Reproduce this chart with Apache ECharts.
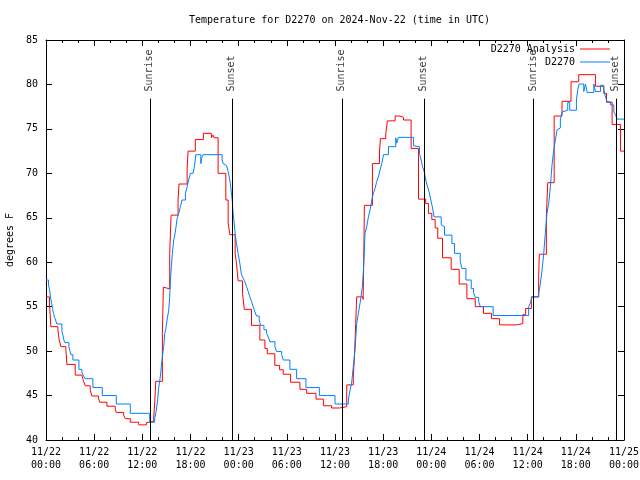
<!DOCTYPE html>
<html><head><meta charset="utf-8">
<script src="https://cdn.jsdelivr.net/npm/echarts@6/dist/echarts.min.js"></script>
<style>html,body{margin:0;padding:0;background:#fff}#c{width:640px;height:480px}</style>
</head><body><div id="c"></div>
<script>
// ---- data ----
const titleText = 'Temperature for D2270 on 2024-Nov-22 (time in UTC)';
const xTickLabels = ['11/22\n00:00','11/22\n06:00','11/22\n12:00','11/22\n18:00','11/23\n00:00','11/23\n06:00','11/23\n12:00','11/23\n18:00','11/24\n00:00','11/24\n06:00','11/24\n12:00','11/24\n18:00','11/25\n00:00'];
const seriesNames = ['D2270 Analysis', 'D2270'];
const sunriseHours = [12.95, 36.85, 60.75];
const sunsetHours = [23.15, 47.1, 71.05];
// [hours since 11/22 00:00 UTC, deg F]
const analysisObs = [[0,56.1],[0.44,55.3],[0.6,52.75],[1.48,52.4],[1.64,51.25],[1.85,50.5],[2.48,50.1],[2.6,48.5],[3.64,47.3],[4.47,47.1],[4.68,46.6],[4.89,46.1],[5.51,45.6],[5.72,44.95],[6.55,44.7],[6.68,44.25],[7.59,43.8],[8.63,43.4],[8.76,43.1],[9.67,42.8],[9.88,42.4],[10.5,42.0],[11.55,41.7],[12.5,41.95],[12.67,42.1],[13.42,42.6],[13.55,44.3],[13.67,46.6],[14.5,52.0],[14.62,57.2],[14.72,57.0],[15.41,61.0],[15.58,65.3],[16.45,67.0],[16.57,68.8],[17.58,70.6],[17.7,72.5],[18.6,73.8],[19.6,74.5],[20.6,74.0],[20.8,74.3],[20.95,74.0],[21.44,70.0],[22.4,67.0],[22.69,64.4],[22.9,63.1],[23.56,61.0],[23.73,59.9],[23.93,57.9],[24.48,56.5],[24.7,54.7],[25.6,52.9],[26.64,51.25],[27.27,50.3],[27.56,49.7],[28.5,48.4],[29.1,47.9],[29.55,47.4],[30.47,46.5],[31.63,45.7],[32.47,45.25],[33.63,44.6],[34.55,43.85],[35.58,43.6],[36.55,43.75],[37.46,46.2],[38.28,47.05],[38.41,49.2],[38.58,53.1],[38.7,56.1],[39.5,55.8],[39.58,60.0],[39.66,66.4],[40.66,71.1],[41.54,72.4],[41.66,73.9],[42.32,74.5],[42.53,75.9],[43.49,76.45],[44.1,76.3],[44.53,76.0],[45.48,72.8],[46.4,67.1],[47.3,66.6],[47.64,65.5],[48.06,64.8],[48.48,63.85],[48.8,62.7],[49.39,60.5],[50.47,59.2],[51.47,57.55],[52.43,55.9],[53.47,55.0],[54.5,54.25],[55.5,53.65],[56.5,52.95],[58.7,53.1],[59.4,54.1],[59.75,54.8],[60.46,56.1],[61.37,58.4],[61.45,60.9],[62.33,65.2],[62.5,68.95],[63.3,76.45],[64.28,78.1],[65.4,80.3],[66.36,81.1],[68.44,79.8],[69.48,79.0],[69.82,78.0],[70.52,75.5],[71.56,72.5],[72,72.5]];
const stationObs = [[0,58.0],[0.31,57.44],[0.44,56.9],[0.56,56.1],[0.69,55.4],[0.81,54.8],[0.94,54.25],[1.06,53.8],[1.19,53.5],[1.35,53.05],[1.98,52.3],[2.1,51.8],[2.23,51.25],[2.35,50.95],[2.85,50.5],[2.97,50.05],[3.1,49.6],[3.35,49.0],[4.1,47.95],[4.47,47.6],[4.68,47.2],[4.89,46.9],[5.84,45.9],[7.01,45.0],[8.76,44.05],[10.5,43.0],[12.92,42.0],[13.54,42.45],[13.71,43.2],[13.91,44.5],[14.04,45.9],[14.25,47.2],[14.37,48.25],[14.5,49.4],[14.66,50.5],[14.79,52.0],[14.91,52.4],[15.08,53.5],[15.29,54.6],[15.41,56.1],[15.5,58.0],[15.62,59.5],[15.74,61.0],[15.91,62.5],[16.08,63.25],[16.2,64.0],[16.33,64.9],[16.54,65.5],[16.74,66.25],[16.95,67.0],[17.37,67.75],[17.58,68.5],[17.78,69.25],[17.99,70.0],[18.32,70.2],[18.49,70.75],[18.66,72.1],[19.28,71.1],[19.4,71.7],[19.57,72.1],[21.94,71.5],[22.06,71.1],[22.27,70.9],[22.48,70.75],[22.69,70.2],[22.9,69.25],[23.02,68.4],[23.19,67.0],[23.31,65.5],[23.44,64.4],[23.56,63.25],[23.73,62.1],[23.93,61.0],[24.14,59.9],[24.35,58.6],[24.56,58.2],[24.77,57.8],[24.98,57.25],[25.19,56.7],[25.39,56.1],[25.6,55.6],[25.81,55.0],[26.02,54.4],[26.23,53.95],[26.56,53.5],[26.73,52.9],[27.15,52.4],[27.48,52.0],[27.68,51.6],[27.9,51.05],[28.52,50.5],[28.72,49.95],[29.35,49.6],[29.55,49.0],[30.38,47.95],[31.22,46.9],[32.38,45.9],[34.05,45.0],[36.0,44.05],[37.66,44.5],[37.87,45.6],[38.07,46.4],[38.28,48.25],[38.49,50.1],[38.58,51.4],[38.7,53.1],[38.91,54.25],[39.12,55.4],[39.24,56.1],[39.41,57.25],[39.54,59.1],[39.66,61.4],[39.74,63.25],[39.95,64.0],[40.16,65.1],[40.37,65.9],[40.58,67.0],[40.78,67.75],[40.99,68.3],[41.2,69.1],[41.41,69.6],[41.62,70.4],[41.83,71.1],[42.04,72.1],[42.66,73.0],[43.57,74.0],[43.69,73.4],[43.9,74.05],[45.77,73.1],[45.98,73.0],[46.52,72.25],[46.73,71.5],[46.9,70.75],[47.11,70.2],[47.31,69.25],[47.52,68.5],[47.73,67.9],[47.94,67.0],[48.15,66.1],[48.35,65.1],[49.23,64.2],[49.43,64.0],[49.64,63.05],[50.56,62.1],[50.89,61.0],[51.6,60.1],[51.81,59.3],[52.31,58.0],[52.97,57.05],[53.26,56.6],[53.47,56.05],[53.89,55.6],[54.1,55.0],[55.7,54.0],[60.12,55.0],[60.33,55.4],[60.54,56.1],[61.37,56.5],[61.58,57.6],[61.79,59.1],[62.0,61.0],[62.2,63.25],[62.41,65.5],[62.62,66.6],[62.83,68.5],[63.03,70.9],[63.24,72.6],[63.45,73.75],[63.66,74.9],[63.87,75.1],[64.07,76.0],[64.28,76.9],[64.49,77.1],[64.99,77.95],[65.24,77.1],[66.07,78.25],[66.24,79.4],[66.4,80.05],[66.99,79.2],[67.2,80.05],[67.41,79.1],[68.24,80.05],[68.44,79.2],[69.07,79.9],[69.48,79.4],[69.69,78.6],[69.9,78.05],[70.31,77.7],[70.73,76.9],[70.94,76.6],[71.15,76.1],[72,76.1]];

// ---- chart ----
const FONT = 'DejaVu Sans Mono';
const txt = {fontFamily: FONT, fontSize: 10, color: '#000'};
const Y_MIN = 40, Y_MAX = 85, LINE_TOP = 78.4, LABEL_BASE = 79.15;

function xAxisCfg(pos, showLabel) {
  return {
    type: 'value', position: pos, min: 0, max: 72, interval: 6,
    axisLine: {show: true, onZero: false, lineStyle: {color: '#000', width: 1}},
    axisTick: {show: true, inside: true, length: 6, lineStyle: {color: '#000'}},
    minorTick: {show: true, splitNumber: 3, length: 3, lineStyle: {color: '#000'}},
    splitLine: {show: false}, minorSplitLine: {show: false},
    axisLabel: {show: showLabel, margin: 6, lineHeight: 13, ...txt,
      formatter: v => xTickLabels[Math.round(v / 6)]}
  };
}
function yAxisCfg(pos, showLabel) {
  return {
    type: 'value', position: pos, min: Y_MIN, max: Y_MAX, interval: 5,
    axisLine: {show: true, onZero: false, lineStyle: {color: '#000', width: 1}},
    axisTick: {show: true, inside: true, length: 6, lineStyle: {color: '#000'}},
    splitLine: {show: false},
    axisLabel: {show: showLabel, margin: 8, ...txt},
    name: showLabel ? 'degrees F' : '', nameLocation: 'middle', nameGap: 31,
    nameTextStyle: txt
  };
}

const markLines = [];
sunriseHours.concat(sunsetHours).forEach(h => {
  markLines.push([{coord: [h, Y_MIN]}, {coord: [h, LINE_TOP]}]);
});
const sunLabels = sunriseHours.map(h => [h, LABEL_BASE, 'Sunrise'])
  .concat(sunsetHours.map(h => [h, LABEL_BASE, 'Sunset']));

const chart = echarts.init(document.getElementById('c'));
chart.setOption({
  animation: false,
  backgroundColor: '#fff',
  title: {text: titleText, left: 184, top: 10, textStyle: {...txt, fontWeight: 'normal'}},
  legend: {
    data: seriesNames.map(n => ({name: n, icon: 'rect'})),
    orient: 'vertical', align: 'right', right: 25, top: 39,
    itemWidth: 30, itemHeight: 1, itemGap: 3, textStyle: txt, selectedMode: false
  },
  grid: {left: 46, right: 16, top: 40, bottom: 40, containLabel: false, outerBoundsMode: 'none'},
  xAxis: [xAxisCfg('bottom', true), xAxisCfg('top', false)],
  yAxis: [yAxisCfg('left', true), yAxisCfg('right', false)],
  series: [
    {
      name: seriesNames[0], type: 'line', step: 'end', data: analysisObs,
      symbol: 'none', lineStyle: {color: '#ff0000', width: 1}, itemStyle: {color: '#ff0000'},
      markLine: {silent: true, symbol: 'none', label: {show: false},
        lineStyle: {color: '#000', width: 1, type: 'solid'}, data: markLines}
    },
    {
      name: seriesNames[1], type: 'line', step: 'end', data: stationObs,
      symbol: 'none', lineStyle: {color: '#0080ff', width: 1}, itemStyle: {color: '#0080ff'}
    },
    {
      name: 'sun', type: 'scatter', data: sunLabels, symbolSize: 1,
      itemStyle: {color: 'rgba(0,0,0,0)'}, silent: true,
      label: {show: true, position: [0, 0], rotate: 90, align: 'left', verticalAlign: 'middle',
        formatter: p => p.data[2], ...txt}
    }
  ]
});
</script></body></html>
